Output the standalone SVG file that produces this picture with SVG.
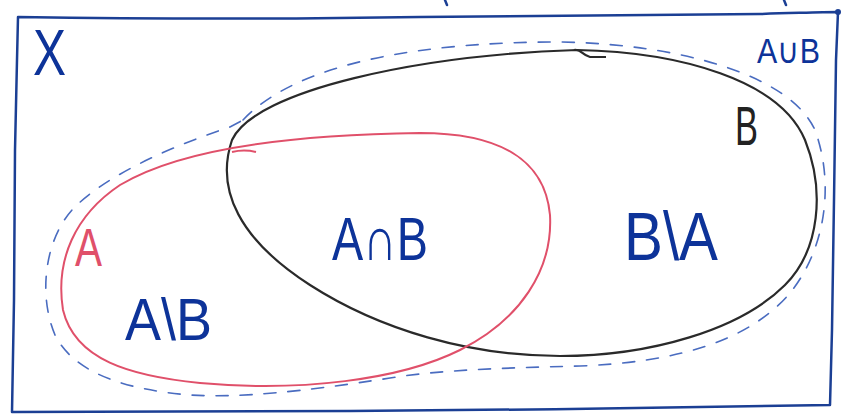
<svg xmlns="http://www.w3.org/2000/svg" width="846" height="414" viewBox="0 0 846 414">
<style>
.lbl{font-family:"Liberation Sans",Arial,sans-serif;fill:#0d3399}
.frame{fill:none;stroke:#1b3f94;stroke-width:2.5;stroke-linecap:round;stroke-linejoin:round}
.setA{fill:none;stroke:#e0506a;stroke-width:2}
.setB{fill:none;stroke:#2a2a2a;stroke-width:2.2}
.union{fill:none;stroke:#4a6cc0;stroke-width:1.6;stroke-dasharray:12 12;stroke-linecap:round}
</style>
<rect width="846" height="414" fill="#ffffff"/>
<g id="frame-X">
<path class="frame" d="M18,17 C150,19 300,19 420,17 C560,15 700,15 760,14 C800,13 820,12 838,12 L836,60 L834,200 L832,330 L830,405 C700,408 500,410 350,411 L12,412 L14,300 L15,150 L17,60 Z"/>
<circle cx="838" cy="12" r="3" fill="#1b3f94"/>
<path class="frame" d="M445,0 L447,5 M784,0 L786,5" stroke-width="2"/>
<text class="lbl" x="33" y="75" font-size="64" textLength="33" lengthAdjust="spacingAndGlyphs">X</text>
</g>
<g id="connectors">
<path class="union" d="M243,120 C300,60 430,42 560,42 C680,44 790,75 815,130 C835,185 825,250 790,293 C750,340 680,362 580,366 C500,368 440,370 390,378 C300,392 240,398 190,395 C130,390 75,375 55,335 C38,295 45,240 72,210 C100,180 160,150 230,127 Z"/>
</g>
<g id="set-B">
<path class="setB" d="M577,50 C680,52 780,80 805,140 C825,190 820,250 785,285 C740,330 650,356 560,356 C470,356 380,330 310,285 C240,240 215,190 232,140 C255,90 420,55 577,50 Z"/>
<path class="setB" d="M574,50 C580,48 582,55 590,57 L606,57" stroke-width="1.6"/>
<text x="735" y="145" font-size="56" textLength="23" lengthAdjust="spacingAndGlyphs" font-family="Liberation Sans,Arial,sans-serif" fill="#222222">B</text>
</g>
<g id="set-A">
<path class="setA" d="M420,133 C500,133 545,160 550,215 C553,270 520,320 460,350 C400,380 300,392 200,383 C130,376 75,360 63,310 C55,260 75,215 120,185 C170,155 260,135 420,133 Z"/>
<path class="setA" d="M232,152 C240,150 248,150 256,152"/>
<text x="75" y="266" font-size="53" textLength="27" lengthAdjust="spacingAndGlyphs" font-family="Liberation Sans,Arial,sans-serif" fill="#e0506a">A</text>
</g>
<g id="union-label">
<text class="lbl" x="757" y="63" font-size="35" textLength="63" lengthAdjust="spacingAndGlyphs">A∪B</text>
</g>
<g id="A-minus-B">
<text class="lbl" x="125" y="340" font-size="60" textLength="87" lengthAdjust="spacingAndGlyphs">A\B</text>
</g>
<g id="A-and-B">
<text class="lbl" x="332" y="260" font-size="62" textLength="96" lengthAdjust="spacingAndGlyphs">A∩B</text>
</g>
<g id="B-minus-A">
<text class="lbl" x="624" y="260" font-size="68" textLength="94" lengthAdjust="spacingAndGlyphs">B\A</text>
</g>
</svg>
